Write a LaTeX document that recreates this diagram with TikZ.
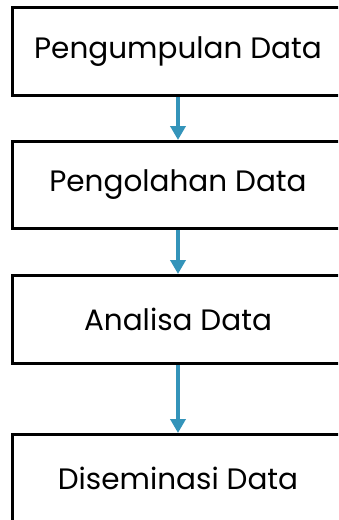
\documentclass[tikz,border=0pt]{standalone}
\usepackage{fontspec}
\setmainfont{Poppins}
\usetikzlibrary{arrows.meta}
\definecolor{arrowblue}{RGB}{52,148,186}
\begin{document}
\begin{tikzpicture}[x=1pt,y=-1pt,
  stagebox/.style={draw=black,line width=3pt,fill=white,inner sep=0pt,
    minimum width=331pt,font=\fontsize{29.5}{32}\selectfont},
  flowarrow/.style={draw=arrowblue,line width=4pt,
    -{Triangle[width=15pt,length=14pt]}}]
\useasboundingbox (0,0) rectangle (338,520);
\clip (0,0) rectangle (338,520);
\fill[white] (0,0) rectangle (338,520);
\node[stagebox,minimum height=88pt] (b1) at (178,51.5) {Pengumpulan Data};
\node[stagebox,minimum height=87pt] (b2) at (178,185) {Pengolahan Data};
\node[stagebox,minimum height=88pt] (b3) at (178,319.5) {Analisa Data};
\node[stagebox,minimum height=88pt] (b4) at (178,478.5) {Diseminasi Data};
\draw[flowarrow] (b1.south) -- (b2.north);
\draw[flowarrow] (b2.south) -- (b3.north);
\draw[flowarrow] (b3.south) -- (b4.north);
\end{tikzpicture}
\end{document}
